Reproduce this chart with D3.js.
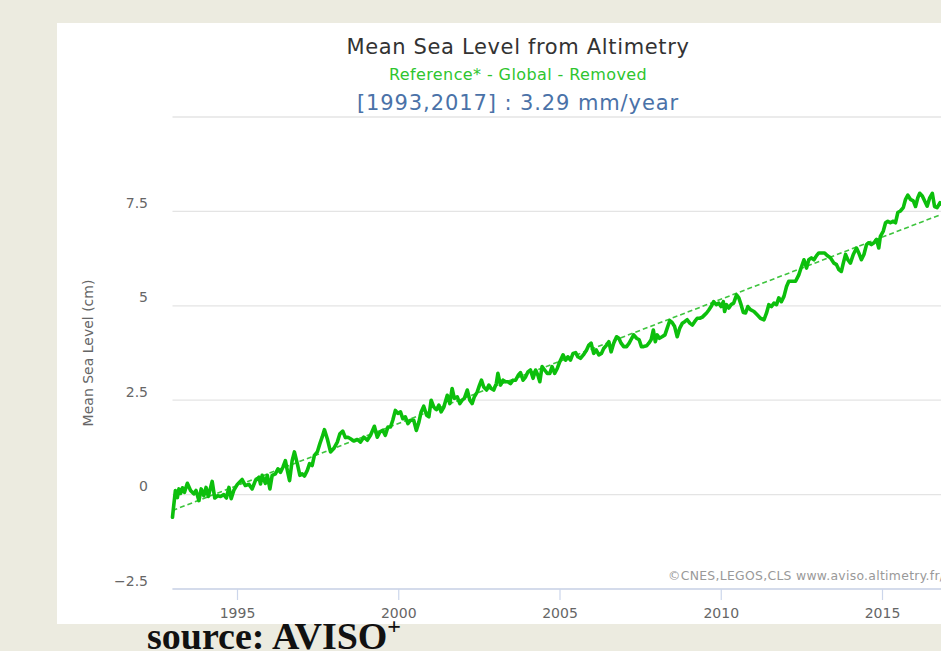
<!DOCTYPE html>
<html>
<head>
<meta charset="utf-8">
<script src="https://cdn.jsdelivr.net/npm/d3@7"></script>
<style>
  html, body { margin: 0; padding: 0; background: #ecebe0; overflow: hidden; }
  svg { display: block; }
</style>
</head>
<body>
<svg id="chart" width="941" height="651"></svg>
<script>
// Global mean sea level (cm), ~10-day sampling, annual/seasonal signals removed
const years = [
  1993.00,1993.02,1993.09,1993.15,1993.20,1993.25,1993.31,1993.37,1993.46,1993.56,
  1993.66,1993.73,1993.82,1993.89,1993.97,1994.04,1994.11,1994.23,1994.31,1994.40,
  1994.49,1994.59,1994.67,1994.75,1994.82,1994.90,1995.01,1995.16,1995.26,1995.37,
  1995.47,1995.57,1995.68,1995.73,1995.78,1995.88,1995.94,1996.02,1996.09,1996.19,
  1996.27,1996.35,1996.43,1996.50,1996.56,1996.63,1996.71,1996.78,1996.87,1996.95,
  1997.02,1997.09,1997.18,1997.25,1997.33,1997.40,1997.49,1997.57,1997.64,1997.71,
  1997.80,1997.90,1998.00,1998.11,1998.19,1998.28,1998.36,1998.44,1998.52,1998.62,
  1998.73,1998.83,1998.93,1999.04,1999.14,1999.26,1999.35,1999.43,1999.52,1999.60,
  1999.68,1999.76,1999.83,1999.91,1999.99,2000.07,2000.14,2000.22,2000.30,2000.38,
  2000.48,2000.56,2000.64,2000.71,2000.79,2000.88,2000.95,2001.02,2001.10,2001.19,
  2001.26,2001.33,2001.41,2001.52,2001.60,2001.67,2001.74,2001.83,2001.91,2001.98,
  2002.05,2002.14,2002.22,2002.29,2002.36,2002.45,2002.52,2002.58,2002.65,2002.74,
  2002.81,2002.88,2002.96,2003.04,2003.09,2003.17,2003.25,2003.33,2003.40,2003.48,
  2003.56,2003.64,2003.72,2003.79,2003.87,2003.95,2004.02,2004.10,2004.18,2004.26,
  2004.33,2004.39,2004.46,2004.54,2004.62,2004.70,2004.77,2004.85,2004.93,2005.01,
  2005.11,2005.19,2005.26,2005.34,2005.42,2005.50,2005.57,2005.65,2005.74,2005.84,
  2005.91,2005.98,2006.06,2006.14,2006.22,2006.30,2006.37,2006.46,2006.53,2006.60,
  2006.68,2006.77,2006.84,2006.91,2006.99,2007.08,2007.16,2007.24,2007.30,2007.39,
  2007.47,2007.54,2007.61,2007.70,2007.77,2007.84,2007.91,2007.97,2008.03,2008.10,
  2008.18,2008.27,2008.34,2008.42,2008.49,2008.57,2008.65,2008.73,2008.81,2008.88,
  2008.96,2009.04,2009.12,2009.19,2009.27,2009.35,2009.43,2009.50,2009.56,2009.63,
  2009.70,2009.78,2009.86,2009.94,2010.01,2010.08,2010.12,2010.18,2010.25,2010.32,
  2010.40,2010.49,2010.56,2010.63,2010.70,2010.77,2010.84,2010.92,2011.03,2011.13,
  2011.23,2011.34,2011.42,2011.49,2011.57,2011.65,2011.73,2011.80,2011.88,2011.96,
  2012.04,2012.11,2012.22,2012.32,2012.42,2012.49,2012.58,2012.66,2012.73,2012.81,
  2012.89,2012.97,2013.04,2013.15,2013.22,2013.30,2013.40,2013.51,2013.59,2013.66,
  2013.74,2013.80,2013.87,2013.94,2014.02,2014.11,2014.21,2014.28,2014.36,2014.44,
  2014.52,2014.59,2014.67,2014.75,2014.83,2014.90,2014.95,2015.04,2015.11,2015.18,
  2015.26,2015.35,2015.42,2015.49,2015.57,2015.66,2015.73,2015.80,2015.88,2015.97,
  2016.04,2016.11,2016.17,2016.25,2016.32,2016.40,2016.48,2016.56,2016.63,2016.71,
  2016.80,2016.85
];
const msl = [
  -0.60,-0.43,0.11,-0.08,0.15,0.03,0.18,0.06,0.30,0.11,
  0.02,0.11,-0.16,0.15,-0.03,0.19,-0.05,0.35,-0.09,-0.03,
  -0.05,0.00,-0.09,0.19,-0.11,0.11,0.27,0.40,0.24,0.27,
  0.15,0.37,0.46,0.28,0.51,0.30,0.51,0.15,0.51,0.55,
  0.68,0.59,0.74,0.90,0.64,0.37,0.90,1.13,0.82,0.51,
  0.55,0.49,0.64,0.82,0.77,1.04,1.13,1.35,1.52,1.72,
  1.48,1.13,1.22,1.39,1.61,1.68,1.51,1.52,1.48,1.42,
  1.46,1.39,1.52,1.44,1.57,1.81,1.52,1.66,1.70,1.57,
  1.79,1.79,1.97,2.23,2.15,2.19,2.01,2.06,1.88,1.97,
  1.97,1.70,1.92,2.19,2.34,2.10,2.06,2.50,2.32,2.25,
  2.37,2.19,2.31,2.63,2.41,2.81,2.55,2.59,2.41,2.50,
  2.55,2.77,2.50,2.41,2.59,2.72,2.90,3.03,2.85,2.77,
  2.90,2.81,2.77,2.94,3.21,2.90,3.03,2.99,2.99,2.94,
  3.03,3.03,3.16,3.23,3.03,3.12,3.25,3.30,3.08,3.30,
  3.16,2.99,3.39,3.30,3.21,3.21,3.39,3.21,3.34,3.52,
  3.70,3.56,3.65,3.56,3.74,3.76,3.65,3.61,3.70,3.83,
  3.96,4.01,3.74,3.83,3.70,3.74,3.87,3.96,4.05,3.78,
  4.01,4.18,4.14,4.01,3.92,3.92,4.01,4.14,4.23,4.14,
  4.10,3.92,3.92,3.94,4.01,4.10,4.36,4.05,4.23,4.14,
  4.18,4.23,4.41,4.61,4.56,4.45,4.18,4.41,4.54,4.58,
  4.63,4.54,4.49,4.58,4.67,4.67,4.70,4.76,4.81,4.89,
  4.98,5.11,5.03,5.07,4.98,5.11,4.85,5.03,4.94,5.03,
  5.07,5.29,5.21,5.03,4.82,4.81,4.98,4.90,4.85,4.76,
  4.67,4.63,4.81,5.03,4.98,5.07,5.03,5.21,5.11,5.25,
  5.51,5.65,5.65,5.65,5.82,6.00,6.22,6.00,6.22,6.27,
  6.22,6.33,6.40,6.40,6.40,6.33,6.27,6.13,6.09,5.96,
  5.91,6.13,6.36,6.22,6.13,6.36,6.53,6.40,6.22,6.36,
  6.62,6.67,6.62,6.67,6.76,6.53,6.84,6.98,7.20,7.24,
  7.20,7.24,7.20,7.47,7.51,7.60,7.82,7.93,7.82,7.78,
  7.63,7.86,7.98,7.91,7.78,7.64,7.86,7.98,7.63,7.60,
  7.73,7.69
];

// Linear trend over [1993, 2017]: 3.29 mm/year
const trendYears = [1993.0, 2017.2];
const trendValues = [-0.42, 7.54];

// Axis ticks
const xTicks = [1995, 2000, 2005, 2010, 2015];
const yGrid = [-2.5, 0, 2.5, 5, 7.5, 10];
const yLabelled = [-2.5, 0, 2.5, 5, 7.5];

const titleText = "Mean Sea Level from Altimetry";
const subtitleText = "Reference* - Global - Removed";
const rateText = "[1993,2017] : 3.29 mm/year";
const yTitle = "Mean Sea Level (cm)";
const creditText = "\u00A9CNES,LEGOS,CLS www.aviso.altimetry.fr/";

const W = 941, H = 651;
const FONT = "'DejaVu Sans', Verdana, sans-serif";
const svg = d3.select("#chart");

// page background and white chart panel
svg.append("rect").attr("width", W).attr("height", H).attr("fill", "#ecebe0");
svg.append("rect").attr("x", 57).attr("y", 23).attr("width", W - 57 + 10).attr("height", 601).attr("fill", "#ffffff");

const x = d3.scaleLinear().domain([1995, 2015]).range([237, 882]);
const y = d3.scaleLinear().domain([-2.5, 10]).range([589, 117]);
const plotLeft = x(1993);

// horizontal grid
svg.append("g").selectAll("line").data(yGrid).join("line")
  .attr("x1", plotLeft).attr("x2", W + 5)
  .attr("y1", d => y(d)).attr("y2", d => y(d))
  .attr("stroke", "#e4e4e4").attr("stroke-width", 1.3);

// y labels (no label on the top gridline)
const yAxis = d3.axisLeft(y).tickValues(yLabelled).tickSize(0).tickPadding(0)
  .tickFormat(d3.format("~g"));
const gy = svg.append("g").attr("transform", `translate(148,-4)`).call(yAxis);
gy.select(".domain").remove();
gy.selectAll("text").attr("font-family", FONT).attr("font-size", 14).attr("fill", "#666")
  .attr("dy", "0");

// x axis
const xAxis = d3.axisBottom(x).tickValues(xTicks).tickSize(11).tickPadding(5)
  .tickFormat(d3.format("d"));
const gx = svg.append("g").attr("transform", `translate(0,${y(-2.5)})`).call(xAxis);
gx.select(".domain").remove();
gx.append("line").attr("x1", plotLeft).attr("x2", W + 5).attr("y1", 0).attr("y2", 0)
  .attr("stroke", "#ccd6eb").attr("stroke-width", 1.3);
gx.selectAll(".tick line").attr("stroke", "#ccd6eb").attr("stroke-width", 1.2);
gx.selectAll("text").attr("font-family", FONT).attr("font-size", 14).attr("fill", "#666")
  .attr("dy", "0.9em");

// y title
svg.append("text")
  .attr("transform", `translate(93,${y(3.75)}) rotate(-90)`)
  .attr("text-anchor", "middle")
  .attr("font-family", FONT).attr("font-size", 14).attr("fill", "#666")
  .text(yTitle);

// trend (dashed)
const series = years.map((t, i) => ({ t, v: msl[i] }));
const trend = trendYears.map((t, i) => ({ t, v: trendValues[i] }));
const line = d3.line().x(d => x(d.t)).y(d => y(d.v));

svg.append("path").datum(trend).attr("d", line)
  .attr("fill", "none").attr("stroke", "#3ec43e").attr("stroke-width", 1.6)
  .attr("stroke-dasharray", "5,3");

// sea level series
svg.append("path").datum(series).attr("d", line)
  .attr("fill", "none").attr("stroke", "#0cbf0c").attr("stroke-width", 3.6)
  .attr("stroke-linejoin", "round").attr("stroke-linecap", "round");

// credit
svg.append("text").attr("x", 668).attr("y", 580)
  .attr("font-family", FONT).attr("font-size", 12.4).attr("letter-spacing", 0.3)
  .attr("fill", "#999").text(creditText);

// titles
const cx = 518;
svg.append("text").attr("x", cx).attr("y", 54).attr("text-anchor", "middle")
  .attr("font-family", FONT).attr("font-size", 21).attr("letter-spacing", 0.65)
  .attr("fill", "#333").text(titleText);
svg.append("text").attr("x", cx).attr("y", 80).attr("text-anchor", "middle")
  .attr("font-family", FONT).attr("font-size", 16).attr("letter-spacing", 0.4)
  .attr("fill", "#2ec52e").text(subtitleText);
svg.append("text").attr("x", cx).attr("y", 110).attr("text-anchor", "middle")
  .attr("font-family", FONT).attr("font-size", 21).attr("letter-spacing", 0.9)
  .attr("fill", "#4a72a8").text(rateText);

// source line
const src = svg.append("text").attr("x", 147).attr("y", 649)
  .attr("font-family", "'Liberation Serif', 'Times New Roman', serif")
  .attr("font-size", 38).attr("font-weight", "bold").attr("fill", "#111");
src.append("tspan").text("source: AVISO");
src.append("tspan").attr("font-size", 24).attr("dy", -15).text("+");
</script>
</body>
</html>
